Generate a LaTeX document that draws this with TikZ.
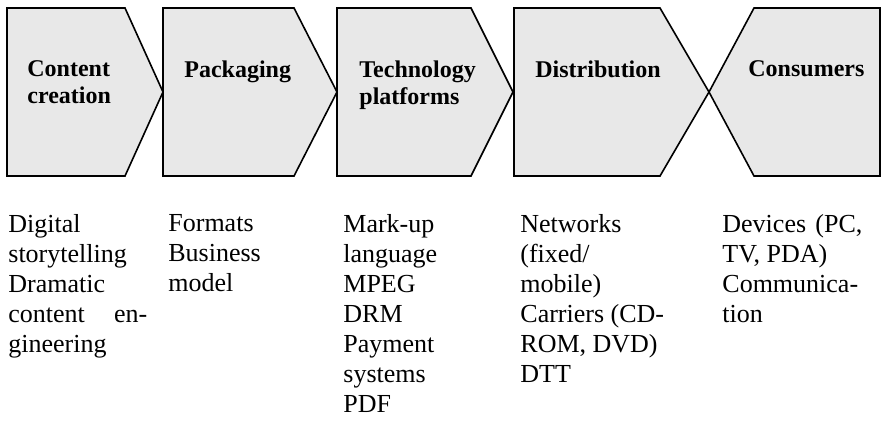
\documentclass[tikz,border=0pt]{standalone}
\usepackage{fontspec}
\setmainfont{Liberation Serif}
\usepackage{tikz}

\definecolor{chevgray}{RGB}{232,232,232}

\tikzset{
  chevron/.style={fill=chevgray,draw=black,line width=0.8pt},
  stage/.style={anchor=north west,inner sep=0pt,align=left,
    font=\fontsize{12}{13.5}\selectfont\bfseries},
  items/.style={anchor=north west,inner sep=0pt,align=left,
    font=\fontsize{13}{15}\selectfont}
}

\begin{document}
\begin{tikzpicture}[x=0.5pt,y=-0.5pt]
  \useasboundingbox
    (0,0)
    rectangle
    (882,420);
  % the five chevrons
  \filldraw[chevron]
    (7,8) -- (125,8)
    -- (163,92)
    -- (125,176) -- (7,176) -- cycle;
  \filldraw[chevron]
    (163,8) -- (294,8)
    -- (337,92)
    -- (294,176) -- (163,176) -- cycle;
  \filldraw[chevron]
    (337,8) -- (471,8)
    -- (513,92)
    -- (471,176) -- (337,176) -- cycle;
  \filldraw[chevron]
    (514,8) -- (660,8)
    -- (709,92)
    -- (660,176) -- (514,176) -- cycle;
  \filldraw[chevron]
    (754,8) -- (880,8)
    -- (880,176) -- (754,176)
    -- (709,92) -- cycle;
  % stage titles
  \node[stage] (creation) at (27,60) {Content\\creation};
  \node[stage] (packaging) at (184,60) {Packaging};
  \node[stage] (platforms) at (359,60) {Technology\\platforms};
  \node[stage] (distribution) at (535,60) {Distribution};
  \node[stage] (consumers) at (748,60) {Consumers};
  % what each stage covers
  \node[items] (creationitems) at (8,214)
    {Digital\\storytelling\\Dramatic\\\makebox[69.5pt][s]{content en-}\\gineering};
  \node[items] (packagingitems) at (168,214)
    {Formats\\Business\\model};
  \node[items] (platformsitems) at (343,214)
    {Mark-up\\language\\MPEG\\DRM\\Payment\\systems\\PDF};
  \node[items] (distributionitems) at (520,214)
    {Networks\\(fixed/\\mobile)\\Carriers (CD-\\ROM, DVD)\\DTT};
  \node[items] (consumersitems) at (722,214)
    {\makebox[70pt][s]{Devices (PC,}\\TV, PDA)\\Communica-\\tion};
\end{tikzpicture}
\end{document}
